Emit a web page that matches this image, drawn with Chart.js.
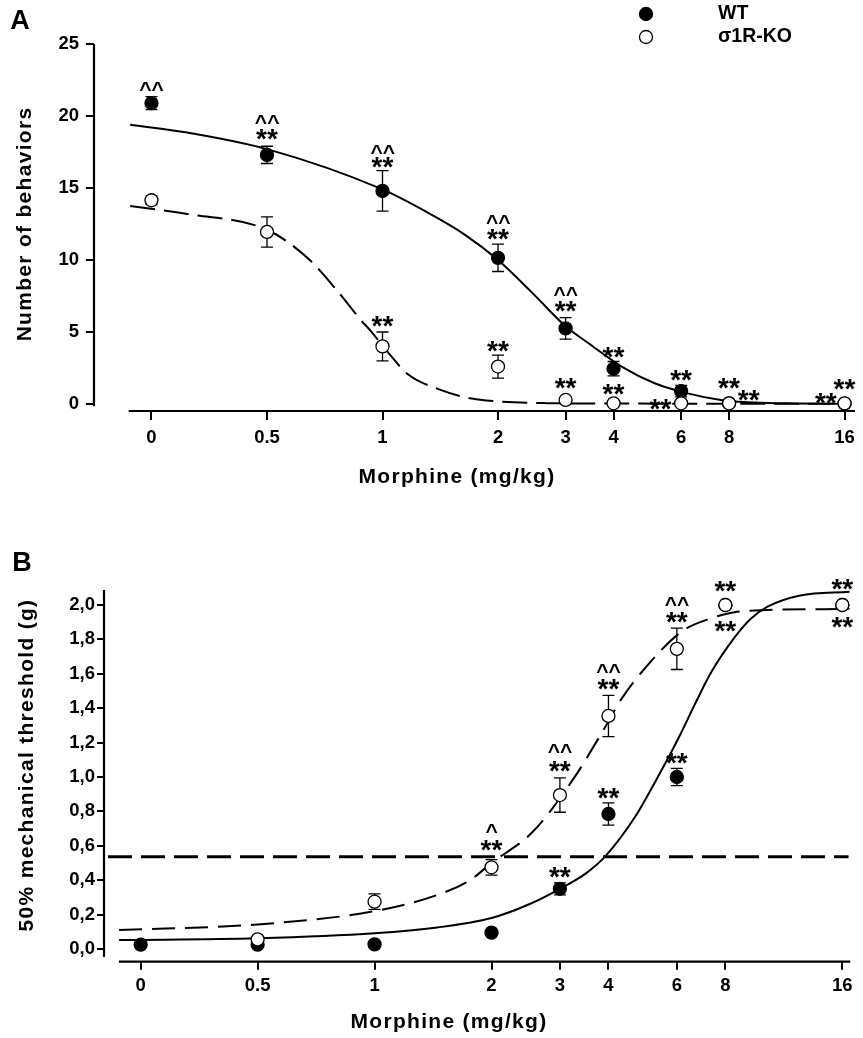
<!DOCTYPE html>
<html>
<head>
<meta charset="utf-8">
<script src="https://cdn.jsdelivr.net/npm/chart.js@4.4.1/dist/chart.umd.min.js"></script>
<style>
  html, body { margin: 0; padding: 0; background: #fff; }
  #wrap { position: relative; width: 863px; height: 1038px; }
  canvas { position: absolute; left: 0; }
  #chartA { top: 0; }
  #chartB { top: 515px; }
</style>
</head>
<body>
<div id="wrap">
  <canvas id="chartA" width="863" height="515"></canvas>
  <canvas id="chartB" width="863" height="523"></canvas>
</div>
<script>
// ================= data =================
const doses = [0, 0.5, 1, 2, 3, 4, 6, 8, 16];
const doseTickLabels = ['0', '0.5', '1', '2', '3', '4', '6', '8', '16'];

// panel A - number of behaviors
const behTicks = [0, 5, 10, 15, 20, 25];
const behWT = [20.9, 17.3, 14.8, 10.15, 5.25, 2.45, 0.9, 0.05, 0.02];
const behWTsem = [0.45, 0.6, 1.4, 0.95, 0.75, 0.5, 0.4, 0, 0];
const behKO = [14.15, 11.95, 4.0, 2.6, 0.28, 0.05, 0.05, 0.05, 0.05];
const behKOsem = [0.3, 1.05, 1.0, 0.8, 0.1, 0, 0, 0, 0];
// fitted curves
const behWTfitDose = [0.22, 0.31, 0.5, 1, 1.31, 1.63, 2, 2.46, 3, 3.45, 4.2, 5.12, 6.24, 7.61, 9.28, 12, 16.5];
const behWTfit = [19.4, 18.85, 17.7, 14.9, 13.3, 11.8, 10.0, 7.7, 5.4, 4.2, 2.6, 1.44, 0.74, 0.28, 0.1, 0.04, 0.02];
const behKOfitDose = [0.22, 0.31, 0.5, 0.64, 0.76, 0.88, 0.93, 1.04, 1.16, 1.41, 1.69, 2, 2.67, 4, 16.5];
const behKOfit = [13.75, 13.2, 12.1, 10.1, 7.9, 5.8, 5.1, 3.5, 2.1, 1.0, 0.4, 0.18, 0.06, 0.03, 0.02];
// significance marks [dose, value, text]
const behMarks = [
  [0, 22.05, '^^'],
  [0.5, 19.77, '^^'], [0.5, 18.73, '**'],
  [1, 17.69, '^^'], [1, 16.78, '**'],
  [2, 12.8, '^^'], [2, 11.8, '**'],
  [3, 7.8, '^^'], [3, 6.76, '**'],
  [4, 3.6, '**'], [6, 1.95, '**'],
  [8, 1.44, '**'], [9.0, 0.62, '**'],
  [16, 1.32, '**'], [14.3, 0.4, '**'],
  [1, 5.7, '**'], [2, 4.0, '**'], [3, 1.44, '**'], [4, 1.02, '**'], [5.3, -0.02, '**']
];

// panel B - 50% mechanical threshold
const thrTicks = [0, 0.2, 0.4, 0.6, 0.8, 1.0, 1.2, 1.4, 1.6, 1.8, 2.0];
const thrWT = [0.025, 0.025, 0.027, 0.095, 0.35, 0.785, 1.0, 2.0, 2.0];
const thrWTsem = [0, 0, 0, 0, 0.035, 0.065, 0.05, 0, 0];
const thrKO = [null, 0.056, 0.275, 0.475, 0.895, 1.355, 1.745, 2.0, 2.0];
const thrKOsem = [0, 0, 0.045, 0.045, 0.1, 0.12, 0.12, 0, 0];
const thrWTfitDose = [0.22, 0.5, 1, 1.45, 2, 2.5, 3, 3.5, 3.93, 4.69, 5.27, 6.07, 6.7, 7.36, 8.44, 9.3, 10.27, 12.47, 16.7];
const thrWTfit = [0.052, 0.062, 0.091, 0.125, 0.18, 0.26, 0.35, 0.44, 0.54, 0.77, 0.97, 1.23, 1.43, 1.61, 1.81, 1.92, 1.99, 2.055, 2.077];
const thrKOfitDose = [0.22, 0.5, 1, 1.45, 1.76, 2, 2.55, 3.23, 3.86, 4.33, 4.88, 6.17, 7.36, 8.44, 10.27, 16.7];
const thrKOfit = [0.11, 0.143, 0.22, 0.314, 0.40, 0.5, 0.68, 0.98, 1.263, 1.457, 1.612, 1.845, 1.923, 1.958, 1.971, 1.977];
const thrRefDose = [0.206, 16.6];
const thrRef = [0.537, 0.537];
const thrMarks = [
  [2, 0.70, '^'], [2, 0.60, '**'],
  [3, 0.444, '**'], [4, 0.905, '**'],
  [3, 1.167, '^^'], [3, 1.06, '**'],
  [4, 1.632, '^^'], [4, 1.54, '**'],
  [6, 2.02, '^^'], [6, 1.93, '**'],
  [6, 1.11, '**'],
  [8, 2.107, '**'], [8, 1.874, '**'],
  [16, 2.12, '**'], [16, 1.897, '**']
];

// ================= helpers =================
const FONT = '"Liberation Sans", Arial, Helvetica, sans-serif';
const LOG_ZERO = -2; // dose 0 sits two log2 steps left of 1
function xu(d) { return d === 0 ? LOG_ZERO : Math.log2(d); }
function pts(xs, ys) { return xs.map((d, i) => ({ x: xu(d), y: ys[i] })); }

const tickFont = { family: FONT, size: 18.5, weight: 'bold' };

function curve(xs, ys, dash) {
  return {
    data: pts(xs, ys), showLine: true, pointRadius: 0, borderColor: '#000',
    borderWidth: 2, borderDash: dash, cubicInterpolationMode: 'monotone',
    fill: false, order: 10
  };
}
function markers(ys, sem, fillCol, order) {
  return {
    data: pts(doses, ys), sem: sem, pointRadius: 6.5, pointHoverRadius: 6.5,
    backgroundColor: fillCol, borderColor: '#000', borderWidth: 1.3,
    showLine: false, order: order, clip: false
  };
}

// error bars drawn right before each marker dataset
const errorBars = {
  id: 'errorBars',
  beforeDatasetDraw(chart, args) {
    const ds = chart.data.datasets[args.index];
    if (!ds.sem) return;
    const ctx = chart.ctx, x = chart.scales.x, y = chart.scales.y;
    ctx.save();
    ctx.strokeStyle = '#000';
    ctx.lineWidth = 1.3;
    ds.data.forEach((p, i) => {
      const e = ds.sem[i];
      if (p.y == null || !e) return;
      const px = x.getPixelForValue(p.x);
      const t = y.getPixelForValue(p.y + e), b = y.getPixelForValue(p.y - e);
      ctx.beginPath();
      ctx.moveTo(px, t); ctx.lineTo(px, b);
      ctx.moveTo(px - 6, t); ctx.lineTo(px + 6, t);
      ctx.moveTo(px - 6, b); ctx.lineTo(px + 6, b);
      ctx.stroke();
    });
    ctx.restore();
  }
};

function drawGlyphs(ctx, text, cx, cy) {
  const star = text.indexOf('*') >= 0;
  ctx.font = 'bold ' + (star ? 28 : 21) + 'px ' + FONT;
  const m = ctx.measureText(text);
  ctx.fillText(text, cx - (m.actualBoundingBoxRight - m.actualBoundingBoxLeft) / 2,
    cy + (m.actualBoundingBoxAscent - m.actualBoundingBoxDescent) / 2);
}

// axis lines, significance marks, titles, legend
const decor = {
  id: 'decor',
  afterDraw(chart, args, o) {
    const ctx = chart.ctx, x = chart.scales.x, y = chart.scales.y;
    const area = chart.chartArea;
    ctx.save();
    ctx.strokeStyle = '#000';
    ctx.fillStyle = '#000';
    ctx.lineWidth = 2.2;
    ctx.beginPath();
    ctx.moveTo(area.left, y.getPixelForValue(o.yLine[1]));
    ctx.lineTo(area.left, y.getPixelForValue(o.yLine[0]));
    ctx.moveTo(x.getPixelForValue(o.xLine[0]), area.bottom);
    ctx.lineTo(x.getPixelForValue(o.xLine[1]), area.bottom);
    ctx.stroke();

    ctx.textAlign = 'left';
    ctx.textBaseline = 'alphabetic';
    o.marks.forEach(m => drawGlyphs(ctx, m[2], x.getPixelForValue(xu(m[0])), y.getPixelForValue(m[1])));

    ctx.textAlign = 'center';
    ctx.textBaseline = 'middle';
    ctx.font = 'bold 27px ' + FONT;
    ctx.fillText(o.letter[0], o.letter[1], o.letter[2]);

    ctx.font = 'bold 21px ' + FONT;
    ctx.letterSpacing = '1.3px';
    ctx.fillText(o.xTitle[0], o.xTitle[1], o.xTitle[2]);
    ctx.translate(o.yTitle[1], o.yTitle[2]);
    ctx.rotate(-Math.PI / 2);
    ctx.fillText(o.yTitle[0], 0, 0);
    ctx.restore();

    if (o.legend) {
      ctx.save();
      ctx.lineWidth = 1.3;
      ctx.strokeStyle = '#000';
      ctx.font = 'bold 19.5px ' + FONT;
      ctx.textBaseline = 'middle';
      ctx.textAlign = 'left';
      o.legend.forEach(l => {
        ctx.beginPath();
        ctx.arc(646, l.y, 6.5, 0, Math.PI * 2);
        ctx.fillStyle = l.fill;
        ctx.fill();
        ctx.stroke();
        ctx.fillStyle = '#000';
        ctx.fillText(l.text, 718, l.y);
      });
      ctx.restore();
    }
  }
};

function makeChart(id, cfg) {
  return new Chart(document.getElementById(id), {
    type: 'scatter',
    data: { datasets: cfg.datasets },
    options: {
      responsive: false,
      animation: false,
      events: [],
      layout: { padding: { left: 0, top: cfg.padTop, right: 1, bottom: 0 } },
      plugins: { legend: { display: false }, tooltip: { enabled: false }, decor: cfg.decor },
      scales: {
        x: {
          type: 'linear', min: cfg.xRange[0], max: cfg.xRange[1],
          border: { display: false },
          grid: { drawOnChartArea: false, drawTicks: true, tickLength: cfg.xTick, color: '#000', lineWidth: 2 },
          ticks: { autoSkip: false, maxRotation: 0, padding: cfg.xPad, color: '#000', font: tickFont,
            callback: (v, i) => doseTickLabels[i] },
          afterBuildTicks: s => { s.ticks = doses.map(d => ({ value: xu(d) })); },
          afterFit: s => { s.height = cfg.xHeight; }
        },
        y: {
          type: 'linear', min: cfg.yRange[0], max: cfg.yRange[1],
          border: { display: false },
          grid: { drawOnChartArea: false, drawTicks: true, tickLength: cfg.yTick, color: '#000', lineWidth: 2 },
          ticks: { padding: cfg.yPad, color: '#000', font: tickFont, callback: cfg.yLabel },
          afterBuildTicks: s => { s.ticks = cfg.yTicks.map(v => ({ value: v })); },
          afterFit: s => { s.width = cfg.yWidth; }
        }
      }
    },
    plugins: [errorBars, decor]
  });
}

// ================= panel A =================
makeChart('chartA', {
  datasets: [
    curve(behWTfitDose, behWTfit, []),
    curve(behKOfitDose, behKOfit, [25, 9]),
    markers(behWT, behWTsem, '#000', 2),
    markers(behKO, behKOsem, '#fff', 1)
  ],
  padTop: 44, xHeight: 104, yWidth: 94,
  xRange: [-2.4976, 4.092], yRange: [-0.486, 25],
  xTick: 9, xPad: 7, yTick: 8, yPad: 7,
  yTicks: behTicks, yLabel: v => String(v),
  decor: {
    yLine: [-0.15, 25], xLine: [-2.197, 4.09],
    marks: behMarks,
    letter: ['A', 20, 22],
    xTitle: ['Morphine (mg/kg)', 457, 477],
    yTitle: ['Number of behaviors', 25, 224],
    legend: [{ y: 14, fill: '#000', text: 'WT' }, { y: 37, fill: '#fff', text: 'σ1R-KO' }]
  }
});

// ================= panel B =================
const refLine = curve(thrRefDose, thrRef, [24, 9]);
refLine.borderWidth = 3;
makeChart('chartB', {
  datasets: [
    refLine,
    curve(thrWTfitDose, thrWTfit, []),
    curve(thrKOfitDose, thrKOfit, [23, 10]),
    markers(thrWT, thrWTsem, '#000', 2),
    markers(thrKO, thrKOsem, '#fff', 1)
  ],
  padTop: 75, xHeight: 76.3, yWidth: 104,
  xRange: [-2.3136, 4.110], yRange: [-0.0738, 2.0872],
  xTick: 8, xPad: 5, yTick: 7, yPad: 2,
  yTicks: thrTicks, yLabel: v => v.toFixed(1).replace('.', ','),
  decor: {
    yLine: [-0.047, 2.0872], xLine: [-2.186, 4.068],
    marks: thrMarks,
    letter: ['B', 22, 49],
    xTitle: ['Morphine (mg/kg)', 449, 507],
    yTitle: ['50% mechanical threshold (g)', 27, 250]
  }
});
</script>
</body>
</html>
